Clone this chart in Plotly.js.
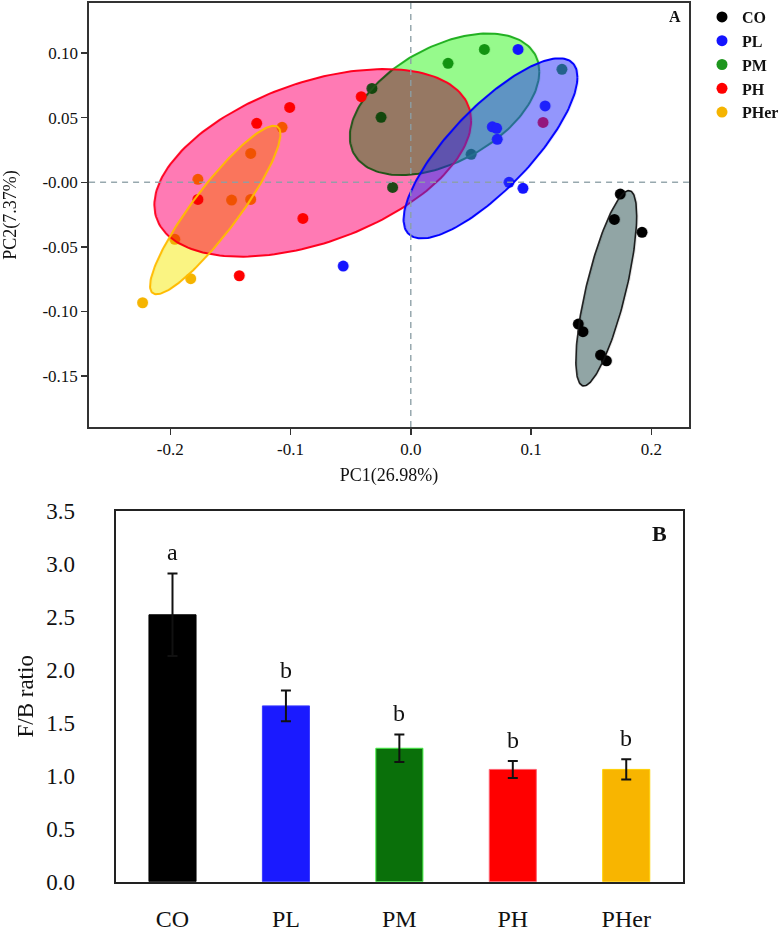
<!DOCTYPE html>
<html>
<head>
<meta charset="utf-8">
<script src="https://cdn.plot.ly/plotly-3.0.1.min.js"></script>
<style>html,body{margin:0;padding:0;background:#fff;}</style>
</head>
<body>
<div id="chart" style="width:784px;height:932px;"></div>
<script>
// ---------- DATA ----------
const groups = ["CO", "PL", "PM", "PH", "PHer"];

// PCA scores (PC1, PC2) per group
const coX   = [0.1742, 0.1693, 0.1923, 0.1393, 0.1432, 0.1578, 0.1627];
const coY   = [-0.0091, -0.0287, -0.0387, -0.1097, -0.1156, -0.1337, -0.1381];
const plX   = [0.0892, 0.1117, 0.0678, 0.0714, 0.0719, 0.0817, 0.0933, -0.0562];
const plY   = [0.1029, 0.0591, 0.0430, 0.0418, 0.0333, 0.0000, -0.0046, -0.0648];
const pmX   = [0.0612, 0.0310, 0.1257, 0.0502, -0.0323, -0.0247, -0.0151];
const pmY   = [0.1029, 0.0921, 0.0875, 0.0217, 0.0727, 0.0503, -0.0039];
const phX   = [-0.0412, -0.1007, -0.1281, -0.1770, -0.0897, -0.1426, 0.1100];
const phY   = [0.0663, 0.0580, 0.0457, -0.0132, -0.0279, -0.0723, 0.0464];
const pherX = [-0.2230, -0.1830, -0.1962, -0.1490, -0.1331, -0.1770, -0.1331, -0.1070];
const pherY = [-0.0932, -0.0746, -0.0441, -0.0137, -0.0132, 0.0023, 0.0224, 0.0426];

// group ellipses (centre, half-extent along PC1 / PC2, correlation) in order of groups
const ellCx  = [0.1626, 0.0663, 0.0281, -0.0815, -0.1626];
const ellCy  = [-0.0820, 0.0263, 0.0604, 0.0151, -0.0214];
const ellHx  = [0.0253, 0.0723, 0.0788, 0.1317, 0.0542];
const ellHy  = [0.0756, 0.0697, 0.0548, 0.0726, 0.0652];
const ellRho = [0.74, 0.79, 0.46, 0.45, 0.90];

// PCA axis ticks
const pc1Ticks = [-0.2, -0.1, 0.0, 0.1, 0.2];
const pc1TickText = ["-0.2", "-0.1", "0.0", "0.1", "0.2"];
const pc2Ticks = [0.10, 0.05, 0.0, -0.05, -0.10, -0.15];
const pc2TickText = ["0.10", "0.05", "-0.00", "-0.05", "-0.10", "-0.15"];

// F/B ratio bars
const fbMean = [2.52, 1.66, 1.26, 1.06, 1.06];
const fbErr  = [0.39, 0.145, 0.13, 0.08, 0.095];
const sigLetters = ["a", "b", "b", "b", "b"];

// ---------- STYLE ----------
const FONT = "Liberation Serif, Times New Roman, serif";
const pointColor = {CO: "#000000", PL: "#1414ff", PM: "#1e961e", PH: "#ff0000", PHer: "#f5b400"};
const fillColor  = {CO: "#91a5a5", PL: "rgba(40,45,250,0.5)", PM: "#96fa8c", PH: "#ff7ab4", PHer: "#faf482"};
const lineColor  = {CO: "#111111", PL: "#0000ff", PM: "#22b022", PH: "#ff0020", PHer: "#ffbb00"};
const blendMode  = {CO: "multiply", PL: "normal", PM: "multiply", PH: "multiply", PHer: "multiply"};
const barColor   = ["#000000", "#1a1aff", "#0a700a", "#ff0000", "#f8b500"];
const barEdge    = ["#000000", "#3a3aff", "#44ee44", "#ff6070", "#ffd000"];

const pts = {CO: [coX, coY], PL: [plX, plY], PM: [pmX, pmY], PH: [phX, phY], PHer: [pherX, pherY]};

function pointTrace(g) {
  return {
    type: "scatter", mode: "markers", name: g, x: pts[g][0], y: pts[g][1],
    xaxis: "x", yaxis: "y", legendrank: groups.indexOf(g) + 1,
    marker: {color: pointColor[g], size: 11, line: {width: 0}},
    hoverinfo: "x+y+name"
  };
}
function ellipseTrace(g) {
  const i = groups.indexOf(g);
  const xs = [], ys = [];
  const s = Math.sqrt(1 - ellRho[i] * ellRho[i]);
  for (let k = 0; k <= 180; k++) {
    const t = 2 * Math.PI * k / 180;
    xs.push(ellCx[i] + ellHx[i] * Math.cos(t));
    ys.push(ellCy[i] + ellHy[i] * (ellRho[i] * Math.cos(t) + s * Math.sin(t)));
  }
  return {
    type: "scatter", mode: "lines", x: xs, y: ys, xaxis: "x", yaxis: "y",
    fill: "toself", fillcolor: fillColor[g], showlegend: false, hoverinfo: "skip",
    line: {color: lineColor[g], width: g === "CO" ? 1.6 : 2},
    meta: blendMode[g], name: g + " ellipse"
  };
}

const traces = [
  pointTrace("CO"), ellipseTrace("CO"),
  pointTrace("PHer"),
  pointTrace("PM"), ellipseTrace("PM"),
  pointTrace("PH"), ellipseTrace("PH"),
  pointTrace("PL"), ellipseTrace("PL"),
  ellipseTrace("PHer"),
  {
    type: "bar", x: groups, y: fbMean, xaxis: "x2", yaxis: "y2", showlegend: false,
    marker: {color: barColor, line: {color: barEdge, width: 1}},
    error_y: {type: "data", array: fbErr, visible: true, color: "#111111", thickness: 2, width: 5}
  }
];

const annotations = [
  {xref: "x domain", yref: "y domain", x: 0.976, y: 0.968, text: "<b>A</b>", showarrow: false,
   font: {family: FONT, size: 16, color: "#111"}, xanchor: "center", yanchor: "middle"},
  {xref: "x2 domain", yref: "y2 domain", x: 0.959, y: 0.94, text: "<b>B</b>", showarrow: false,
   font: {family: FONT, size: 22, color: "#111"}, xanchor: "center", yanchor: "middle"}
];
groups.forEach((g, i) => {
  annotations.push({
    xref: "x2", yref: "y2", x: g, y: fbMean[i] + fbErr[i], text: sigLetters[i], showarrow: false,
    yanchor: "bottom", yshift: 6, font: {family: FONT, size: 24, color: "#111"}
  });
});

const layout = {
  width: 784, height: 932,
  margin: {l: 0, r: 0, t: 0, b: 0},
  paper_bgcolor: "#ffffff", plot_bgcolor: "#ffffff",
  font: {family: FONT, color: "#111"},
  showlegend: true,
  legend: {x: 0.905, y: 1.0, xanchor: "left", yanchor: "top", bgcolor: "rgba(0,0,0,0)",
           font: {family: FONT, size: 16, weight: "bold", color: "#111"}, tracegroupgap: 0},
  xaxis: {
    domain: [0.1148, 0.8878], range: [-0.2675, 0.2313], anchor: "y",
    tickvals: pc1Ticks, ticktext: pc1TickText,
    ticks: "outside", ticklen: 6, tickwidth: 1.5, tickcolor: "#333",
    showline: true, mirror: true, linecolor: "#333", linewidth: 1.8,
    showgrid: false, zeroline: false, automargin: false,
    tickfont: {family: FONT, size: 17, color: "#111"},
    title: {text: "PC1(26.98%)", font: {family: FONT, size: 18, color: "#111"}, standoff: 10}
  },
  yaxis: {
    domain: [0.5418, 0.9968], range: [-0.1894, 0.1388], anchor: "x",
    tickvals: pc2Ticks, ticktext: pc2TickText,
    ticks: "outside", ticklen: 6, tickwidth: 1.5, tickcolor: "#333",
    showline: true, mirror: true, linecolor: "#333", linewidth: 1.8,
    showgrid: false, zeroline: false, automargin: false,
    tickfont: {family: FONT, size: 17, color: "#111"},
    title: {text: "PC2(7.37%)", font: {family: FONT, size: 18, color: "#111"}, standoff: 22}
  },
  xaxis2: {
    domain: [0.1492, 0.8801], anchor: "y2", type: "category",
    showline: true, mirror: true, linecolor: "#222", linewidth: 2.2,
    ticks: "", showgrid: false, zeroline: false, automargin: false,
    ticklabelstandoff: 14,
    tickfont: {family: FONT, size: 24, color: "#111"}
  },
  yaxis2: {
    domain: [0.054, 0.4517], anchor: "x2", range: [0, 3.5], dtick: 0.5, tickformat: ".1f",
    showline: true, mirror: true, linecolor: "#222", linewidth: 2.2,
    ticks: "", showgrid: false, zeroline: false, automargin: false,
    ticklabelstandoff: 34,
    tickfont: {family: FONT, size: 23, color: "#111"},
    title: {text: "F/B ratio", font: {family: FONT, size: 23, color: "#111"}, standoff: 6}
  },
  bargap: 0.585,
  shapes: [
    {type: "line", xref: "x", yref: "y domain", x0: 0, x1: 0, y0: 0, y1: 1, layer: "above",
     line: {color: "rgba(140,158,165,0.9)", width: 1.5, dash: "6px,5px"}},
    {type: "line", xref: "x domain", yref: "y", x0: 0, x1: 1, y0: 0, y1: 0, layer: "above",
     line: {color: "rgba(140,158,165,0.9)", width: 1.5, dash: "6px,5px"}}
  ],
  annotations: annotations
};

Plotly.newPlot("chart", traces, layout, {displayModeBar: false, staticPlot: true}).then(function (gd) {
  gd.querySelectorAll(".scatterlayer .trace").forEach(function (g) {
    const d = g.__data__;
    const tr = d && d[0] && d[0].trace;
    if (tr && tr.meta === "multiply") {
      g.querySelectorAll(".js-fill").forEach(function (p) { p.style.mixBlendMode = "multiply"; });
    }
  });
});
</script>
</body>
</html>
